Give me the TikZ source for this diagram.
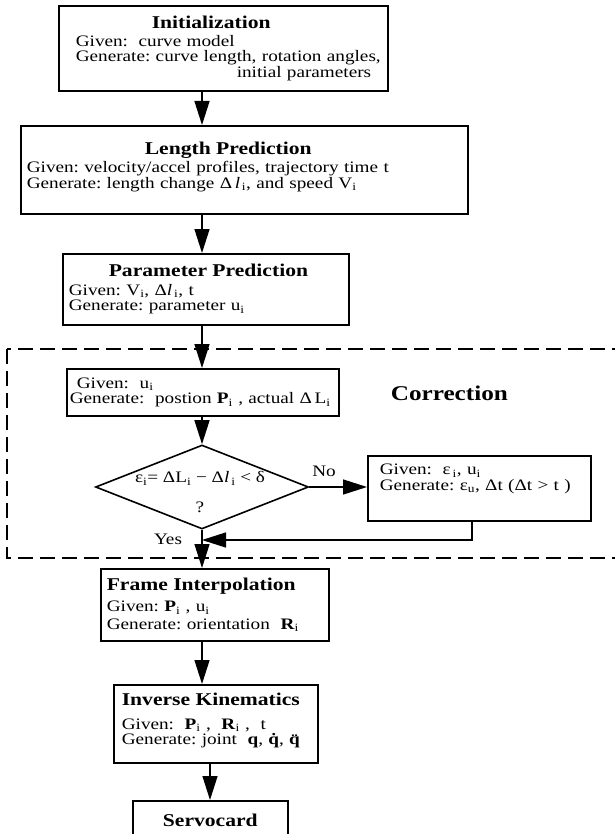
\documentclass[tikz,border=0pt]{standalone}
\usepackage{fontspec}
\setmainfont{Liberation Serif}[FakeStretch=1.2]
\usetikzlibrary{positioning,arrows.meta,shapes.geometric}
\newcommand{\sub}[1]{\textsubscript{#1}}
\newcommand{\stagetitle}[1]{{\fontsize{18}{20}\selectfont\bfseries #1}}
\newcommand{\keeplines}{\frenchspacing\rightskip=-40pt plus 1fil\relax}
\tikzset{
  stage/.style={rectangle,draw=black,line width=1.6pt,anchor=north west,align=left,
    inner ysep=3pt,font=\fontsize{16}{15.5}\selectfont},
  test/.style={diamond,draw=black,line width=1.6pt,minimum width=213pt,minimum height=84pt,
    inner sep=0pt},
  note/.style={inner sep=1pt,font=\fontsize{16}{15.5}\selectfont},
  zone/.style={draw=black,line width=1.3pt,dash pattern=on 15pt off 7pt},
  flow/.style={-{Triangle[length=24pt,width=15pt]},line width=1.4pt},
}

\begin{document}
\begin{tikzpicture}[x=1pt,y=-1pt]
  \useasboundingbox (0,0) rectangle (614,834);
  \coordinate (axis) at (202,0);
  \coordinate (fbx) at (472,0);
  \coordinate (svx) at (210,0);
  \coordinate (join) at (202,540);
  % correction region
  \draw[zone] (7,349) rectangle (625,558);
  % stages
  \node[stage,inner xsep=8pt,text width=313pt,minimum height=85pt] (init) at (58,5)
    {\keeplines\leftskip=9pt
     \hspace*{76pt}\stagetitle{Initialization}\\[2pt]
     Given:\ \ curve model\\
     Generate: curve length, rotation angles,\\
     \hspace*{170pt}initial parameters\rule[-3pt]{0pt}{0pt}};
  \node[stage,inner xsep=6pt,text width=435pt,minimum height=88pt] (lenp) at (20,125)
    {\keeplines
     \hspace*{118pt}\stagetitle{Length Prediction}\\[3pt]
     Given: velocity/accel profiles, trajectory time t\\
     Generate: length change Δ\,\textit{l}\sub{\,i}, and speed V\sub{i}\rule[-10pt]{0pt}{0pt}};
  \node[stage,inner xsep=6pt,text width=274pt,minimum height=71pt] (parp) at (62,253)
    {\keeplines
     \hspace*{40pt}\stagetitle{Parameter Prediction}\\[3pt]
     Given: V\sub{i}, Δ\textit{l}\sub{\,i}, t\\
     Generate: parameter u\sub{i}};
  \node[stage,inner xsep=3pt,text width=266pt,minimum height=47pt] (posbox) at (66,368)
    {\keeplines\leftskip=7pt
     Given:\ \ u\sub{i}\\
     Generate:\ \ postion \textbf{P}\sub{i} , actual Δ\,L\sub{i}};
  \node[test] (check) at (202,487) {};
  \node[note,align=center] (checktxt) at (200,492)
    {ε\sub{i}= ΔL\sub{i}\ −\ Δ\textit{l}\sub{\,i}\ < δ\\[14pt]?};
  \node[stage,inner xsep=12pt,text width=199pt,minimum height=65pt] (corrbox) at (367,455)
    {\keeplines
     Given:\ \ ε\sub{\,i}, u\sub{i}\\
     Generate: ε\sub{u}, Δt (Δt > t )\rule[-22pt]{0pt}{0pt}};
  \node[note,font=\fontsize{21}{23}\selectfont\bfseries,right=50pt of posbox,yshift=-1pt] (corrlbl) {Correction};
  \node[note] (nolbl) at (324,471) {No};
  \node[note] (yeslbl) at (168,539) {Yes};
  \node[stage,inner xsep=6pt,text width=216pt,minimum height=72pt] (frame) at (100,568)
    {\keeplines
     \stagetitle{Frame Interpolation}\\[6pt]
     Given: \textbf{P}\sub{i} , u\sub{i}\\[2pt]
     Generate: orientation\ \ \textbf{R}\sub{i}};
  \node[stage,inner xsep=8pt,text width=188pt,minimum height=78pt] (invk) at (113,684)
    {\keeplines
     \stagetitle{Inverse Kinematics}\\[8pt]
     Given:\ \ \textbf{P}\sub{i} ,\ \ \textbf{R}\sub{i} ,\ \ t\\
     Generate: joint\ \ \textbf{q}, \textbf{\.q}, \textbf{\"q}\rule[-10pt]{0pt}{0pt}};
  \node[stage,align=center,inner xsep=6pt,inner ysep=13pt,text width=143pt] (servo) at (132,800)
    {\stagetitle{Servocard}};
  % connectors
  \draw[flow] (init.south -| axis) -- (lenp.north -| axis);
  \draw[flow] (lenp.south -| axis) -- (parp.north -| axis);
  \draw[flow] (parp.south -| axis) -- (posbox.north -| axis);
  \draw[flow] (posbox.south -| axis) -- (check.north);
  \draw[flow] (check.east) -- (corrbox.west |- check.east);
  \draw[flow] (corrbox.south -| fbx) |- (join);
  \draw[flow] (check.south) -- (frame.north -| axis);
  \draw[flow] (frame.south -| axis) -- (invk.north -| axis);
  \draw[flow] (invk.south -| svx) -- (servo.north -| svx);
\end{tikzpicture}
\end{document}
